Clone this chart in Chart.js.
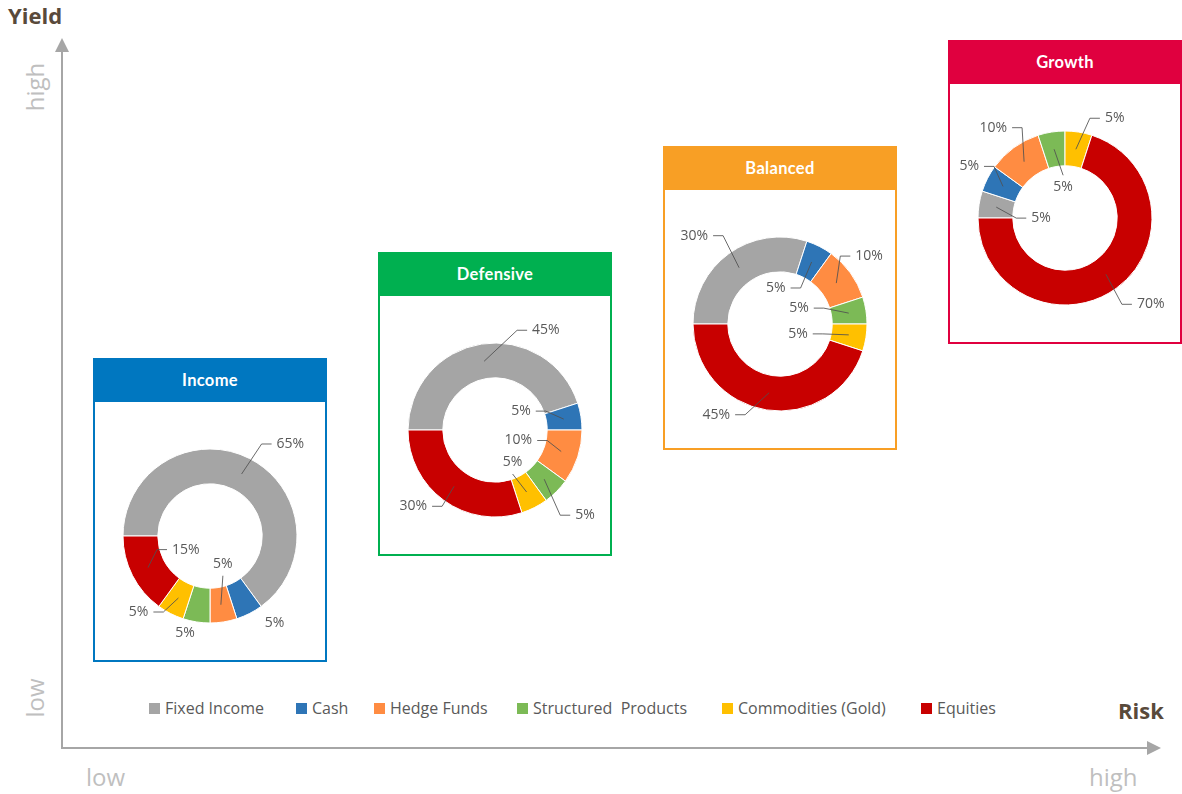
<!DOCTYPE html>
<html>
<head>
<meta charset="utf-8">
<script src="https://cdn.jsdelivr.net/npm/chart.js@4"></script>
<style>
  html, body { margin: 0; padding: 0; background: #fff; }
  #page { position: relative; width: 1182px; height: 794px; overflow: hidden; font-family: "Open Sans", sans-serif; }
  .box { position: absolute; width: 234px; height: 304px; box-sizing: border-box; border: 2px solid; background: #fff; }
  .box .head { position: absolute; left: -2px; top: -2px; width: 234px; height: 44px; color: #fff;
    font: bold 16.5px Lato, sans-serif; display: flex; align-items: center; justify-content: center; letter-spacing: 0.3px; }
  canvas.donut { position: absolute; }
  .lbl { position: absolute; color: #bfbfbf; font-size: 24px; line-height: 1; white-space: nowrap; }
  .rot { transform: translate(-50%, -50%) rotate(-90deg); }
  .axisTitle { position: absolute; color: #594a3b; font-weight: bold; font-size: 22px; line-height: 1; }
  .leg { position: absolute; top: 698px; display: flex; align-items: center; height: 20px; color: #595959; font-size: 16px; white-space: nowrap; }
  .leg i { display: inline-block; width: 11px; height: 11px; margin-right: 5px; }
</style>
</head>
<body>
<div id="page">
  <svg width="1182" height="794" style="position:absolute;left:0;top:0">
    <line x1="62" y1="50" x2="62" y2="749" stroke="#a6a6a6" stroke-width="2"/>
    <polygon points="62,38 55,52 69,52" fill="#a6a6a6"/>
    <line x1="61" y1="748" x2="1149" y2="748" stroke="#a6a6a6" stroke-width="2"/>
    <polygon points="1161,748 1147,741 1147,755" fill="#a6a6a6"/>
  </svg>
  <div class="axisTitle" style="left:8px;top:4px">Yield</div>
  <div class="axisTitle" style="left:1118px;top:699px">Risk</div>
  <div class="lbl rot" style="left:35px;top:87px">high</div>
  <div class="lbl rot" style="left:35px;top:698px">low</div>
  <div class="lbl" style="left:86px;top:765px">low</div>
  <div class="lbl" style="left:1089px;top:765px">high</div>
</div>
<script>
const categories = ["Fixed Income", "Cash", "Hedge Funds", "Structured  Products", "Commodities (Gold)", "Equities"];
const portfolios = ["Income", "Defensive", "Balanced", "Growth"];
const incomeValues = [65, 5, 5, 5, 5, 15];
const defensiveValues = [45, 5, 10, 5, 5, 30];
const balancedValues = [30, 5, 10, 5, 5, 45];
const growthValues = [5, 5, 10, 5, 5, 70];

const sliceColors = ["#a5a5a5", "#2e75b6", "#ff8c42", "#7cba56", "#ffc000", "#c80000"];
const headColors = ["#0077c0", "#00b050", "#f89f25", "#e0003f"];

// label placement per slice: [dx, dy, mode] from the mid-ring point
const labelLayouts = [
  [[20, -30, "r"], [33, 25, "n"], [2, -29, "c"], [-14, 28, "n"], [-15, 14, "l"], [9, -18, "r"]],
  [[33, -31, "r"], [-18, -8, "l"], [-14, -11, "l"], [16, 36, "r"], [-14, -18, "c"], [-12, 20, "l"]],
  [[-16, -32, "l"], [-11, 26, "l"], [4, -27, "r"], [-25, -5, "l"], [-26, -1, "l"], [-24, 22, "l"]],
  [[20, 11, "r"], [-9, -20, "l"], [-2, -34, "l"], [9, 26, "c"], [14, -31, "r"], [16, 30, "r"]]
];
const legendX = [149, 296, 374, 517, 722, 921];

const leaderLabels = {
  id: "leaderLabels",
  afterDatasetsDraw(chart, args, opts) {
    const ctx = chart.ctx;
    const meta = chart.getDatasetMeta(0);
    const values = chart.data.datasets[0].data;
    ctx.save();
    ctx.strokeStyle = "rgba(80,80,80,0.85)";
    ctx.lineWidth = 1;
    ctx.fillStyle = "#595959";
    ctx.font = "14px 'Open Sans'";
    ctx.textBaseline = "middle";
    meta.data.forEach((arc, i) => {
      const p = arc.getProps(["x", "y", "startAngle", "endAngle", "innerRadius", "outerRadius"], true);
      const mid = (p.startAngle + p.endAngle) / 2;
      const r = (p.innerRadius + p.outerRadius) / 2;
      const ax = p.x + Math.cos(mid) * r;
      const ay = p.y + Math.sin(mid) * r;
      const [dx, dy, mode] = opts.layout[i];
      const ex = ax + dx, ey = ay + dy;
      const txt = values[i] + "%";
      if (mode === "n") {
        ctx.textAlign = "center";
        ctx.fillText(txt, ex, ey);
        return;
      }
      ctx.beginPath();
      ctx.moveTo(ax, ay);
      ctx.lineTo(ex, ey);
      if (mode === "r") ctx.lineTo(ex + 10, ey);
      if (mode === "l") ctx.lineTo(ex - 10, ey);
      ctx.stroke();
      if (mode === "r") { ctx.textAlign = "left"; ctx.fillText(txt, ex + 15, ey); }
      else if (mode === "l") { ctx.textAlign = "right"; ctx.fillText(txt, ex - 15, ey); }
      else { ctx.textAlign = "center"; ctx.fillText(txt, ex, ey + Math.sign(dy) * 12); }
    });
    ctx.restore();
  }
};

const page = document.getElementById("page");
const seriesValues = [incomeValues, defensiveValues, balancedValues, growthValues];

portfolios.forEach((name, k) => {
  const left = 93 + 285 * k;
  const top = 358 - 106 * k;
  const box = document.createElement("div");
  box.className = "box";
  box.style.left = left + "px";
  box.style.top = top + "px";
  box.style.borderColor = headColors[k];
  const head = document.createElement("div");
  head.className = "head";
  head.style.background = headColors[k];
  head.textContent = name;
  box.appendChild(head);
  page.appendChild(box);

  const cv = document.createElement("canvas");
  cv.className = "donut";
  cv.width = 234;
  cv.height = 260;
  cv.style.left = left + "px";
  cv.style.top = (top + 48) + "px";
  page.appendChild(cv);

  new Chart(cv, {
    type: "doughnut",
    data: {
      labels: categories,
      datasets: [{
        data: seriesValues[k],
        backgroundColor: sliceColors,
        borderColor: "#ffffff",
        borderWidth: 1,
      }],
    },
    options: {
      responsive: false,
      animation: false,
      rotation: -90,
      radius: 87,
      cutout: "60%",
      layout: { padding: 0 },
      plugins: {
        legend: { display: false },
        tooltip: { enabled: false },
        leaderLabels: { layout: labelLayouts[k] },
      },
    },
    plugins: [leaderLabels],
  });
});

categories.forEach((c, i) => {
  const item = document.createElement("div");
  item.className = "leg";
  item.style.left = legendX[i] + "px";
  const sw = document.createElement("i");
  sw.style.background = sliceColors[i];
  item.appendChild(sw);
  const t = document.createElement("span");
  t.textContent = c;
  t.style.whiteSpace = "pre";
  item.appendChild(t);
  page.appendChild(item);
});
</script>
</body>
</html>
